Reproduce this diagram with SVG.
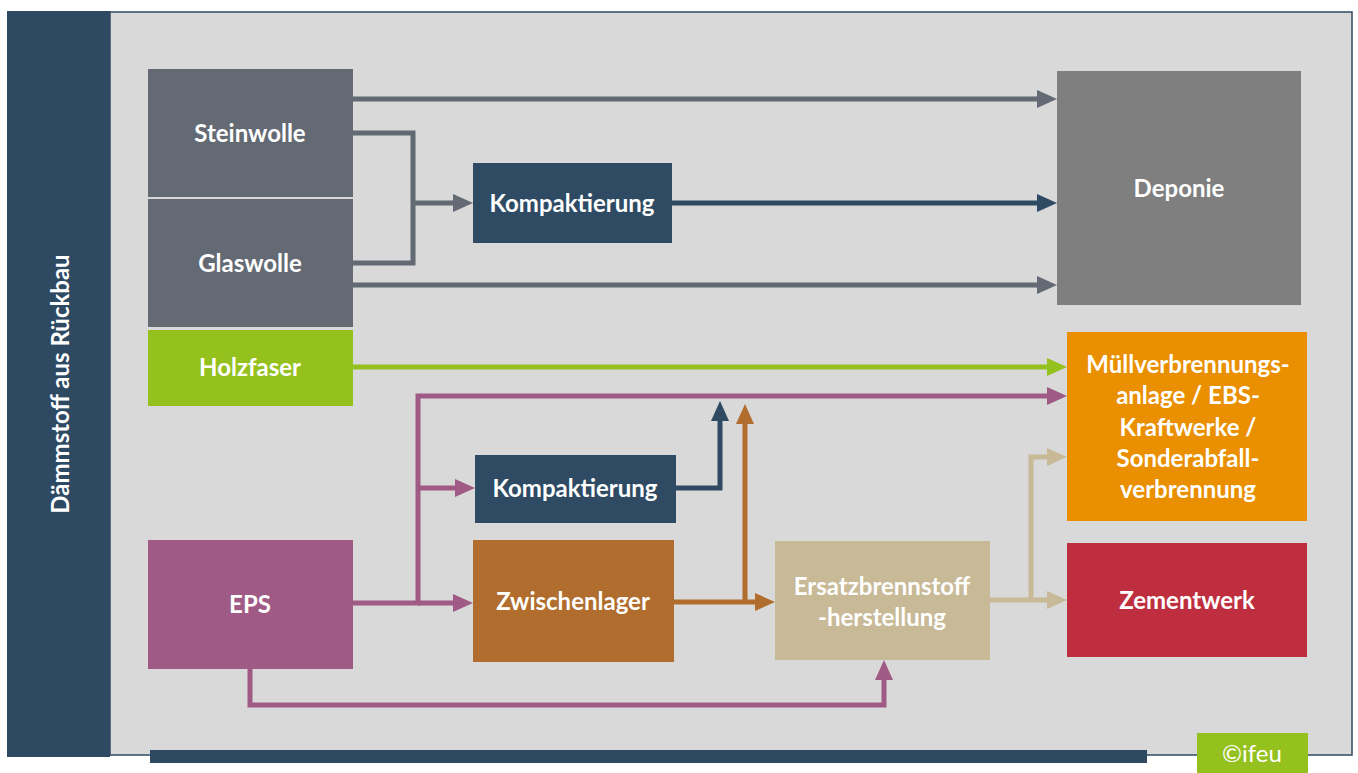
<svg xmlns="http://www.w3.org/2000/svg" width="1358" height="773" viewBox="0 0 1358 773">
<style>
.t{font-family:Lato,"Open Sans","Liberation Sans",sans-serif;font-weight:bold;font-size:24px;fill:#ffffff;text-anchor:middle}
.c{fill:none;stroke-width:5;stroke-linejoin:miter;stroke-linecap:butt}
.g{stroke:#636a73}.b{stroke:#2e4b63}.gr{stroke:#95c11f}.p{stroke:#a05a86}.o{stroke:#b06d2d}.be{stroke:#c8b997}
</style>
<defs>
<marker id="ag" viewBox="0 0 20 18" refX="0" refY="9" markerWidth="20" markerHeight="18" markerUnits="userSpaceOnUse" orient="auto"><path d="M0 0L20 9L0 18Z" fill="#636a73"/></marker>
<marker id="ab" viewBox="0 0 20 18" refX="0" refY="9" markerWidth="20" markerHeight="18" markerUnits="userSpaceOnUse" orient="auto"><path d="M0 0L20 9L0 18Z" fill="#2e4b63"/></marker>
<marker id="agr" viewBox="0 0 20 18" refX="0" refY="9" markerWidth="20" markerHeight="18" markerUnits="userSpaceOnUse" orient="auto"><path d="M0 0L20 9L0 18Z" fill="#95c11f"/></marker>
<marker id="ap" viewBox="0 0 20 18" refX="0" refY="9" markerWidth="20" markerHeight="18" markerUnits="userSpaceOnUse" orient="auto"><path d="M0 0L20 9L0 18Z" fill="#a05a86"/></marker>
<marker id="ao" viewBox="0 0 20 18" refX="0" refY="9" markerWidth="20" markerHeight="18" markerUnits="userSpaceOnUse" orient="auto"><path d="M0 0L20 9L0 18Z" fill="#b06d2d"/></marker>
<marker id="abe" viewBox="0 0 20 18" refX="0" refY="9" markerWidth="20" markerHeight="18" markerUnits="userSpaceOnUse" orient="auto"><path d="M0 0L20 9L0 18Z" fill="#c8b997"/></marker>
</defs>
<rect width="1358" height="773" fill="#ffffff"/>
<g id="frame">
<rect x="110" y="12" width="1242" height="743" fill="#d9d9d9" stroke="#2e4a62" stroke-width="1.5"/>
<rect x="7" y="11" width="103" height="746" fill="#2e4a62"/>
<text class="t" transform="translate(69,384) rotate(-90)">Dämmstoff aus Rückbau</text>
<rect x="150" y="750" width="997" height="13" fill="#2e4a62"/>
</g>
<g id="connectors">
<path class="c g" d="M353 99H1037" marker-end="url(#ag)"/>
<path class="c g" d="M353 133H413V263H353"/>
<path class="c g" d="M413 203H453" marker-end="url(#ag)"/>
<path class="c b" d="M672 203H1037" marker-end="url(#ab)"/>
<path class="c g" d="M353 285H1037" marker-end="url(#ag)"/>
<path class="c gr" d="M353 367H1047" marker-end="url(#agr)"/>
<path class="c p" d="M353 603H418V396H1047" marker-end="url(#ap)"/>
<path class="c p" d="M418 488H455" marker-end="url(#ap)"/>
<path class="c p" d="M418 603H453" marker-end="url(#ap)"/>
<path class="c p" d="M250 669V705H884V680" marker-end="url(#ap)"/>
<path class="c b" d="M676 488H720V421" marker-end="url(#ab)"/>
<path class="c o" d="M674 602H755" marker-end="url(#ao)"/>
<path class="c o" d="M745 602V424" marker-end="url(#ao)"/>
<path class="c be" d="M990 600H1047" marker-end="url(#abe)"/>
<path class="c be" d="M1031 600V457H1047" marker-end="url(#abe)"/>
</g>
<g id="steinwolle"><rect x="148" y="69" width="205" height="128" fill="#636a73"/><text class="t" x="250" y="142">Steinwolle</text></g>
<g id="glaswolle"><rect x="148" y="199" width="205" height="128" fill="#636a73"/><text class="t" x="250" y="272">Glaswolle</text></g>
<g id="holzfaser"><rect x="148" y="330" width="205" height="76" fill="#95c11f"/><text class="t" x="250" y="376">Holzfaser</text></g>
<g id="eps"><rect x="148" y="540" width="205" height="129" fill="#a05a86"/><text class="t" x="250" y="613">EPS</text></g>
<g id="kompaktierung1"><rect x="473" y="163" width="199" height="80" fill="#2e4b63"/><text class="t" x="572" y="212">Kompaktierung</text></g>
<g id="kompaktierung2"><rect x="475" y="455" width="201" height="68" fill="#2e4b63"/><text class="t" x="575" y="497">Kompaktierung</text></g>
<g id="zwischenlager"><rect x="473" y="540" width="201" height="122" fill="#b06d2d"/><text class="t" x="573" y="610">Zwischenlager</text></g>
<g id="ersatzbrennstoff"><rect x="775" y="541" width="215" height="119" fill="#c8b997"/><text class="t" x="882" y="595">Ersatzbrennstoff</text><text class="t" x="882" y="626">-herstellung</text></g>
<g id="deponie"><rect x="1057" y="71" width="244" height="234" fill="#7f7f7f"/><text class="t" x="1179" y="197">Deponie</text></g>
<g id="muellverbrennung"><rect x="1067" y="332" width="240" height="189" fill="#e98f00"/>
<text class="t" x="1188" y="373">Müllverbrennungs-</text>
<text class="t" x="1188" y="404">anlage / EBS-</text>
<text class="t" x="1188" y="436">Kraftwerke /</text>
<text class="t" x="1188" y="467">Sonderabfall-</text>
<text class="t" x="1188" y="498">verbrennung</text></g>
<g id="zementwerk"><rect x="1067" y="543" width="240" height="114" fill="#be2e3e"/><text class="t" x="1187" y="609">Zementwerk</text></g>
<g id="ifeu"><rect x="1197" y="733" width="111" height="40" fill="#95c11f"/><text class="t" x="1252" y="762" style="font-weight:normal;font-size:24px">©ifeu</text></g>
</svg>
